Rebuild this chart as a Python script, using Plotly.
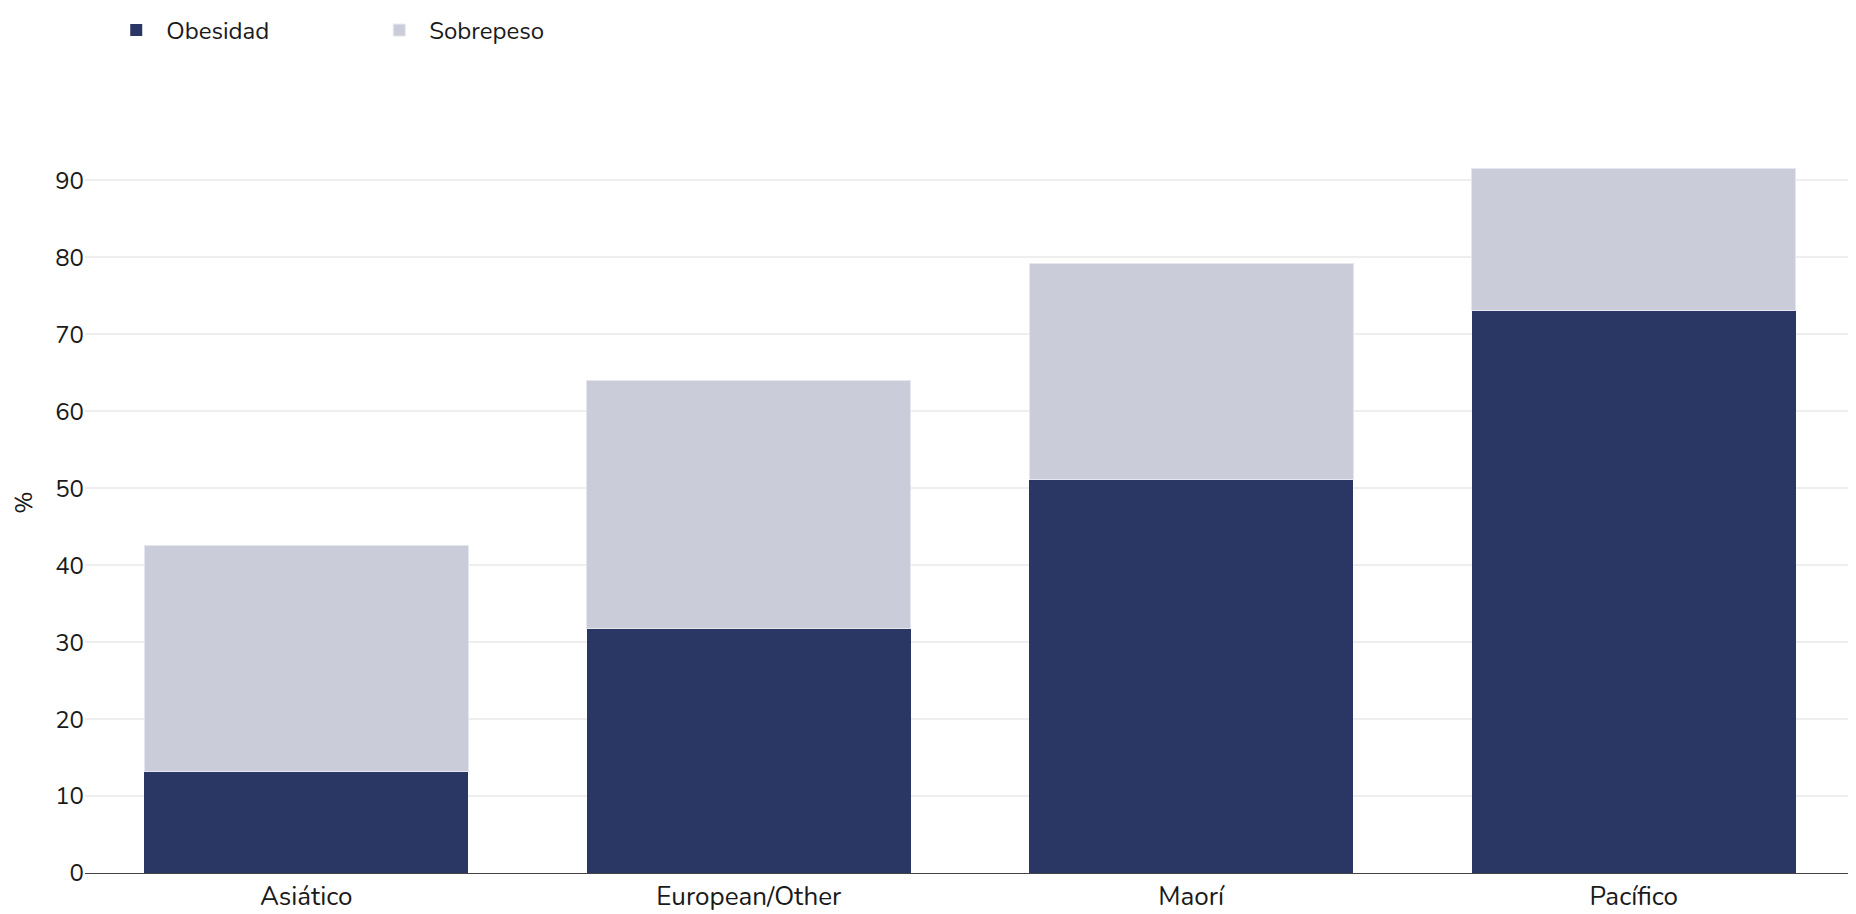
import plotly.graph_objects as go

categories = ["Asiático", "European/Other", "Maorí", "Pacífico"]
obesidad = [13.2, 31.8, 51.1, 73.1]
sobrepeso = [29.3, 32.2, 28.1, 18.4]
y_ticks = [0, 10, 20, 30, 40, 50, 60, 70, 80, 90]

FONT = "Nunito, Lato, sans-serif"

fig = go.Figure()
fig.add_trace(go.Bar(x=categories, y=obesidad, name="Obesidad",
                     marker=dict(color="#2a3764", line=dict(color="#2a3764", width=0))))
fig.add_trace(go.Bar(x=categories, y=sobrepeso, name="Sobrepeso",
                     marker=dict(color="#cacdd9", line=dict(color="#e6e7ee", width=1))))

fig.update_layout(
    barmode="stack",
    bargap=0.267,
    width=1848, height=906,
    margin=dict(l=77, r=1, t=123, b=41),
    paper_bgcolor="white",
    plot_bgcolor="white",
    font=dict(family=FONT, size=24, color="#1a1a1a"),
    legend=dict(orientation="h", x=0.012, xanchor="left", y=1.166, yanchor="top",
                font=dict(size=24), traceorder="normal", itemwidth=50,
                entrywidth=198, entrywidthmode="pixels"),
    xaxis=dict(showgrid=False, ticks="", showline=True, linecolor="#444444", linewidth=1,
               tickfont=dict(size=26), automargin=False, range=[-0.5, 3.5]),
    yaxis=dict(range=[0, 96.3], tickvals=y_ticks, showgrid=True, gridcolor="#eeeeee",
               gridwidth=2, zeroline=True, zerolinecolor="#444444", zerolinewidth=1,
               title=dict(text="%", standoff=24, font=dict(size=24)),
               tickfont=dict(size=24), ticks="", ticklabelstandoff=0, automargin=False),
)

fig.write_html("out.html")
